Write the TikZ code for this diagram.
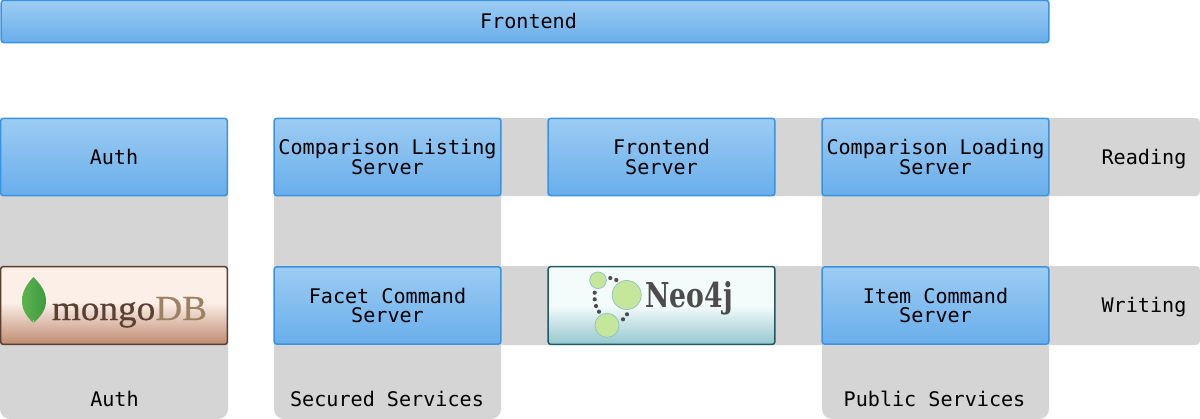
\documentclass[tikz,border=0pt]{standalone}
\usepackage{fontspec}
\setmonofont{DejaVu Sans Mono}
\setmainfont{Liberation Serif}
\newfontfamily\neofont[FakeStretch=0.78]{DejaVu Serif}
\newfontfamily\mongofont[FakeStretch=1.06,FakeBold=0.4]{Liberation Serif}
\usetikzlibrary{shadings}
\definecolor{bandgray}{HTML}{D5D5D5}
\definecolor{boxline}{HTML}{3A93E0}
\definecolor{boxtop}{HTML}{9DCCF3}
\definecolor{boxbot}{HTML}{68AEEB}
\definecolor{mongoline}{HTML}{5A3E30}
\definecolor{neoline}{HTML}{1F5A62}
\definecolor{mongotop}{HTML}{FBEFE8}
\definecolor{mongobot}{HTML}{BF8A70}
\definecolor{neotop}{HTML}{F4FBFB}
\definecolor{neobot}{HTML}{94C7CF}
\definecolor{blobgreen}{HTML}{C5E79C}
\definecolor{blobline}{HTML}{8FC3C0}
\definecolor{leafa}{HTML}{5DB44E}
\definecolor{leafb}{HTML}{3E9A42}
\definecolor{leafstem}{HTML}{C9B9A0}
\definecolor{mongodark}{HTML}{5A4033}
\definecolor{mongolight}{HTML}{9C8263}
\pgfdeclareverticalshading{boxshade}{100bp}{color(0bp)=(boxbot); color(25bp)=(boxbot); color(75bp)=(boxtop); color(100bp)=(boxtop)}
\pgfdeclareverticalshading{mongoshade}{100bp}{color(0bp)=(mongobot); color(25bp)=(mongobot); color(52bp)=(mongotop); color(100bp)=(mongotop)}
\pgfdeclareverticalshading{neoshade}{100bp}{color(0bp)=(neobot); color(25bp)=(neobot); color(50bp)=(neotop); color(100bp)=(neotop)}
\tikzset{
  server/.style={draw=boxline, line width=0.03cm, rounded corners=0.06cm, shading=boxshade,
    minimum width=4.54cm, minimum height=1.55cm, inner sep=0pt, align=center,
    font=\ttfamily\fontsize{11.45}{11.1}\selectfont},
  store/.style={server, minimum height=1.56cm},
  band/.style={fill=bandgray, draw=none},
  caption/.style={inner sep=0pt, font=\ttfamily\fontsize{11.45}{11.1}\selectfont},
  dot/.style={fill=black!70, draw=none},
  blob/.style={fill=blobgreen, draw=blobline, line width=0.015cm}
}
\begin{document}
\begin{tikzpicture}[x=0.02cm,y=-0.02cm]
    \useasboundingbox (0,0) rectangle (1200,419);
    % grey bands behind the boxes
    \fill[band, rounded corners=0.2cm] (0,150) -- (0,419) -- (228,419) -- (228,150) -- cycle;
    \fill[band, rounded corners=0.2cm] (274,150) -- (274,419) -- (501,419) -- (501,150) -- cycle;
    \fill[band, rounded corners=0.2cm] (822,150) -- (822,419) -- (1049,419) -- (1049,150) -- cycle;
    \fill[band, rounded corners=0.08cm] (300,118) -- (1200,118) -- (1200,196) -- (300,196) -- cycle;
    \fill[band, rounded corners=0.08cm] (300,266) -- (1200,266) -- (1200,345) -- (300,345) -- cycle;
    % boxes
    \node[server, minimum width=20.96cm, minimum height=0.85cm] (frontend) at (525,21.5) {\hspace*{0.14cm}Frontend};
    \node[server] (auth) at (114,157) {Auth};
    \node[server] (listing) at (387.5,157) {Comparison Listing\\Server};
    \node[server] (frontendserver) at (661.5,157) {Frontend\\Server};
    \node[server] (loading) at (935.5,157) {Comparison Loading\\Server};
    \node[server] (facet) at (387.5,305.5) {Facet Command\\Server};
    \node[server] (item) at (935.5,305.5) {Item Command\\Server};
    \node[store, draw=mongoline, shading=mongoshade] (mongo) at (114,305.5) {};
    \node[store, draw=neoline, shading=neoshade] (neo) at (661.5,305.5) {};
    % mongo logo
    \shade[left color=leafa, right color=leafb]
        (33.5,277) .. controls (40,284) and (46,291) .. (46,301) .. controls (46,311) and (39,318) .. (33.5,323)
        .. controls (28,318) and (22,311) .. (22,301) .. controls (22,291) and (27,284) .. (33.5,277) -- cycle;
    \draw[color=leafstem, line width=0.02cm] (33.5,320) -- (33.5,328);
    \node[anchor=base west, inner sep=0pt, font=\mongofont\fontsize{20}{20}\selectfont] (mongotext) at (51.5,320)
        {\textcolor{mongodark}{mongo}\textcolor{mongolight}{DB}};
    % neo logo
    \foreach \dx/\dy in {610.3/278, 616.3/280, 594.7/292.7, 594.7/299.3, 596/306, 599/311.7, 627/314.3, 623/319.3}
        \fill[dot] (\dx,\dy) circle[radius=2.1];
    \filldraw[blob] (598,280.3) circle[radius=8.3];
    \filldraw[blob] (626.7,295) circle[radius=14.5];
    \filldraw[blob] (607,325.3) circle[radius=12];
    \node[anchor=base west, inner sep=0pt, text=black!70, font=\neofont\bfseries\fontsize{19.5}{19.5}\selectfont] (neotext) at (645,307) {Neo4j};
    % labels
    \node[caption] (reading) at (1144,159) {Reading};
    \node[caption] (writing) at (1144,307) {Writing};
    \node[caption] (authlabel) at (114.5,399) {Auth};
    \node[caption] (secured) at (387,399) {Secured Services};
    \node[caption] (public) at (934.5,399) {Public Services};
\end{tikzpicture}
\end{document}
